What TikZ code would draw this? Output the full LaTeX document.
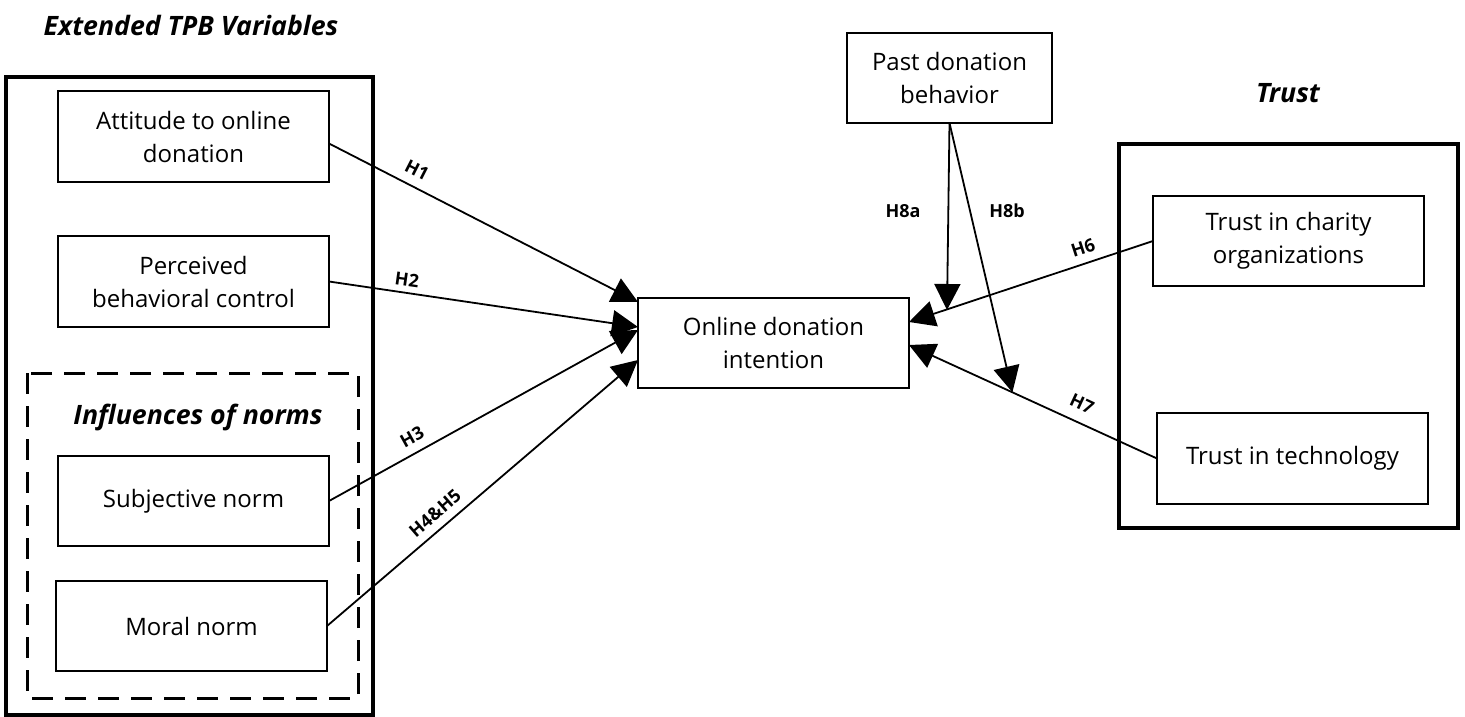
\documentclass[tikz,border=0pt]{standalone}
\usepackage{fontspec}
\setmainfont{Open Sans}
\usetikzlibrary{arrows.meta,calc}
\tikzset{
  box/.style={draw, line width=1.6pt, minimum width=271pt, minimum height=91pt, align=center, inner sep=2pt, outer sep=0pt, font=\fontsize{24}{33}\selectfont},
  group/.style={draw, line width=3.5pt},
  normgroup/.style={draw, line width=3pt, dash pattern=on 21pt off 12pt},
  title/.style={font=\fontsize{26.7}{32}\selectfont\bfseries\itshape},
  conn/.style={line width=1.8pt, -{Triangle[length=26pt,width=26pt]}},
  hlab/.style={font=\fontsize{18}{21}\selectfont\bfseries, inner sep=0pt}
}
\begin{document}
\begin{tikzpicture}[x=1pt,y=-1pt]
\useasboundingbox (0,0) rectangle (1465,717);
% groups
\draw[group] (6,77) rectangle (373,715);
\draw[normgroup] (27,373) rectangle (358,698);
\draw[group] (1119,144) rectangle (1458,528);
% titles
\node[title] (t1) at (191,25) {Extended TPB Variables};
\node[title] (t2) at (198,417) {Influences of norms};
\node[title] (t3) at (1288,93) {Trust};
% boxes
\node[box] (att) at (193.5,136.5) {Attitude to online\\donation};
\node[box] (perc) at (193.5,281.5) {Perceived\\behavioral control};
\node[box, minimum height=90pt] (subj) at (193.5,501) {Subjective norm};
\node[box, minimum height=90pt] (moral) at (191.5,626) {Moral norm};
\node[box, minimum height=90pt] (ode) at (773.5,343) {Online donation\\intention};
\node[box, minimum width=205pt, minimum height=90pt] (past) at (949.5,78) {Past donation\\behavior};
\node[box, minimum height=90pt] (tc) at (1288.5,241) {Trust in charity\\organizations};
\node[box] (tt) at (1292.5,458.5) {Trust in technology};
% connectors
\draw[conn] ([yshift=-7pt]att.east) -- ([yshift=41pt]ode.west);
\draw[conn] (perc.east) -- ([yshift=16pt]ode.west);
\draw[conn] (subj.east) -- ([yshift=13pt]ode.west);
\draw[conn] (moral.east) -- ([yshift=-17pt]ode.west);
\draw[conn] (tc.west) -- ([yshift=21pt]ode.east);
\coordinate (h7end) at ([yshift=-2pt]ode.east);
\draw[conn] (tt.west) -- (h7end);
\coordinate (h8aend) at (947,310);
\draw[conn] (past.south) -- (h8aend);
\coordinate (h8bend) at ($(tt.west)!0.583!(h7end)$);
\draw[conn] (past.south) -- (h8bend);
% labels
\node[hlab, rotate=-27] (l1) at (417,170) {H1};
\node[hlab, rotate=-8] (l2) at (407,280) {H2};
\node[hlab, rotate=29] (l3) at (412,437) {H3};
\node[hlab, rotate=41] (l4) at (435,513) {H4\&H5};
\node[hlab, rotate=18] (l6) at (1083,248) {H6};
\node[hlab, rotate=-25] (l7) at (1082,404) {H7};
\node[hlab] (l8a) at (903,211) {H8a};
\node[hlab] (l8b) at (1007,211) {H8b};
\end{tikzpicture}
\end{document}
